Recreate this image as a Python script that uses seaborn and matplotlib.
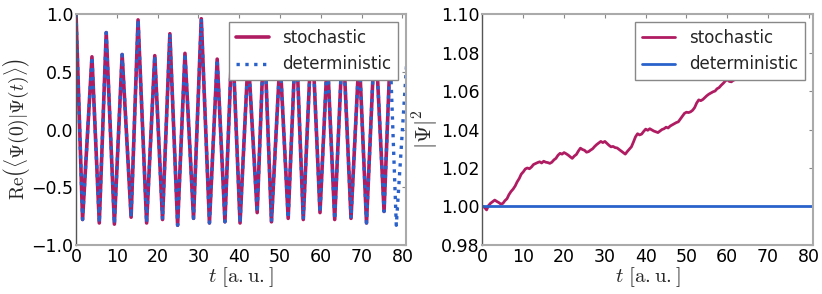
import numpy as np
import pandas as pd
import matplotlib
matplotlib.use('Agg')
import matplotlib.pyplot as plt
import seaborn as sns

# overlap <Psi(0)|Psi(t)> : extrema (peaks and troughs)
osc_t = [0.0, 1.6, 3.9, 5.7, 7.4, 9.4, 11.3, 13.5, 15.2, 17.3, 19.3, 21.2, 23.0, 24.9,
         26.7, 28.8, 30.7, 32.7, 34.6, 36.5, 38.3, 40.2, 42.2, 44.4, 46.1, 47.9, 50.0,
         52.0, 53.9, 55.7, 57.8, 59.8, 61.6, 63.4, 65.4, 67.4, 69.4, 71.2, 73.3, 75.5,
         77.0, 78.5, 81.0]
osc_v = [1.0, -0.78, 0.63, -0.81, 0.84, -0.82, 0.65, -0.76, 0.95, -0.81, 0.64, -0.78,
         0.83, -0.83, 0.66, -0.77, 0.96, -0.81, 0.61, -0.80, 0.83, -0.81, 0.64, -0.72,
         0.86, -0.80, 0.62, -0.77, 0.84, -0.78, 0.88, -0.72, 0.63, -0.78, 0.82, -0.77,
         0.66, -0.81, 0.88, -0.71, 0.65, -0.83, 0.55]
stoch_end = 77.0  # stochastic run stops here

# norm |Psi|^2 of the stochastic run, every 0.5 a.u.
norm_stoch = [1.0000, 0.9995, 0.9982, 1.0005, 1.0017, 1.0025, 1.0033, 1.0026, 1.0020, 1.0012,
              1.0016, 1.0030, 1.0040, 1.0062, 1.0078, 1.0090, 1.0106, 1.0128, 1.0145, 1.0168,
              1.0180, 1.0195, 1.0200, 1.0196, 1.0205, 1.0218, 1.0223, 1.0228, 1.0232, 1.0226,
              1.0235, 1.0230, 1.0228, 1.0224, 1.0230, 1.0242, 1.0250, 1.0266, 1.0276, 1.0272,
              1.0280, 1.0274, 1.0267, 1.0258, 1.0250, 1.0262, 1.0270, 1.0288, 1.0303, 1.0296,
              1.0292, 1.0282, 1.0285, 1.0293, 1.0300, 1.0312, 1.0322, 1.0330, 1.0338, 1.0332,
              1.0338, 1.0328, 1.0318, 1.0310, 1.0312, 1.0306, 1.0304, 1.0296, 1.0288, 1.0280,
              1.0272, 1.0286, 1.0298, 1.0310, 1.0335, 1.0362, 1.0378, 1.0372, 1.0376, 1.0390,
              1.0402, 1.0396, 1.0404, 1.0398, 1.0392, 1.0388, 1.0384, 1.0392, 1.0400, 1.0404,
              1.0412, 1.0408, 1.0418, 1.0424, 1.0430, 1.0436, 1.0440, 1.0455, 1.0470, 1.0484,
              1.0490, 1.0488, 1.0492, 1.0500, 1.0514, 1.0538, 1.0554, 1.0550, 1.0556, 1.0566,
              1.0576, 1.0584, 1.0590, 1.0596, 1.0600, 1.0612, 1.0618, 1.0630, 1.0640, 1.0652,
              1.0660, 1.0650, 1.0648, 1.0656, 1.0660, 1.0668, 1.0672, 1.0680, 1.0690, 1.0700,
              1.0712, 1.0722, 1.0730, 1.0735, 1.0740, 1.0750, 1.0760, 1.0755, 1.0770, 1.0780,
              1.0790, 1.0785, 1.0800, 1.0810, 1.0815, 1.0820, 1.0830, 1.0835, 1.0840, 1.0848,
              1.0855, 1.0860, 1.0865, 1.0870, 1.0878]
norm_det_t = [0.0, 81.0]
norm_det = [1.0, 1.0]

magenta = '#b01c62'
blue = '#2a62cc'

sns.set_style('white')
plt.rcParams['font.family'] = ['DejaVu Sans']
plt.rcParams['mathtext.fontset'] = 'cm'
plt.rcParams['font.size'] = 12

osc = pd.DataFrame({'t': osc_t, 'v': osc_v})
osc_s = osc[osc['t'] <= stoch_end]
norm_t = np.arange(len(norm_stoch)) * 0.5

fig, axs = plt.subplots(1, 2, figsize=(8.22, 2.94), dpi=100)
fig.subplots_adjust(left=0.0925, right=0.989, bottom=0.167, top=0.952, wspace=0.23)

# left panel
ax = axs[0]
sns.lineplot(x=osc_s['t'], y=osc_s['v'], ax=ax, color=magenta, lw=2.6, label='stochastic',
             estimator=None, sort=False)
sns.lineplot(x=osc['t'], y=osc['v'], ax=ax, color=blue, lw=2.4, ls=':', label='deterministic',
             estimator=None, sort=False)
ax.set_xlim(0, 81)
ax.set_ylim(-1.0, 1.0)
ax.set_yticks([-1.0, -0.5, 0.0, 0.5, 1.0])
ax.set_ylabel(r'$\mathrm{Re}\left(\langle\Psi(0)|\Psi(t)\rangle\right)$', fontsize=14)
ax.yaxis.set_label_coords(-0.133, 0.5)

# right panel
ax = axs[1]
sns.lineplot(x=norm_t, y=norm_stoch, ax=ax, color=magenta, lw=2.0, label='stochastic',
             estimator=None, sort=False)
sns.lineplot(x=norm_det_t, y=norm_det, ax=ax, color=blue, lw=2.0, label='deterministic',
             estimator=None, sort=False)
ax.set_xlim(0, 81)
ax.set_ylim(0.98, 1.10)
ax.set_yticks([0.98, 1.00, 1.02, 1.04, 1.06, 1.08, 1.10])
ax.set_ylabel(r'$|\Psi|^2$', fontsize=16)
ax.yaxis.set_label_coords(-0.127, 0.5)

for ax in axs:
    ax.set_xticks(range(0, 81, 10))
    ax.set_xlabel(r'$t\ [\mathrm{a.u.}]$', fontsize=15, labelpad=0)
    ax.tick_params(direction='in', top=True, right=True, length=3, width=0.8,
                   colors='#888888', labelcolor='black', labelsize=12.5, pad=2)
    for side in ['top', 'right', 'bottom']:
        ax.spines[side].set_color('#aaaaaa')
        ax.spines[side].set_linewidth(1.5)
    ax.spines['left'].set_color('#555555')
    ax.spines['left'].set_linewidth(1.0)
    leg = ax.legend(loc='upper right', fontsize=12, fancybox=False, framealpha=1,
                    edgecolor='#888888', handlelength=2.0, borderaxespad=0.5)
    leg.get_frame().set_linewidth(1.0)
    leg.set_zorder(10)

fig.savefig('out.png', dpi=100)
